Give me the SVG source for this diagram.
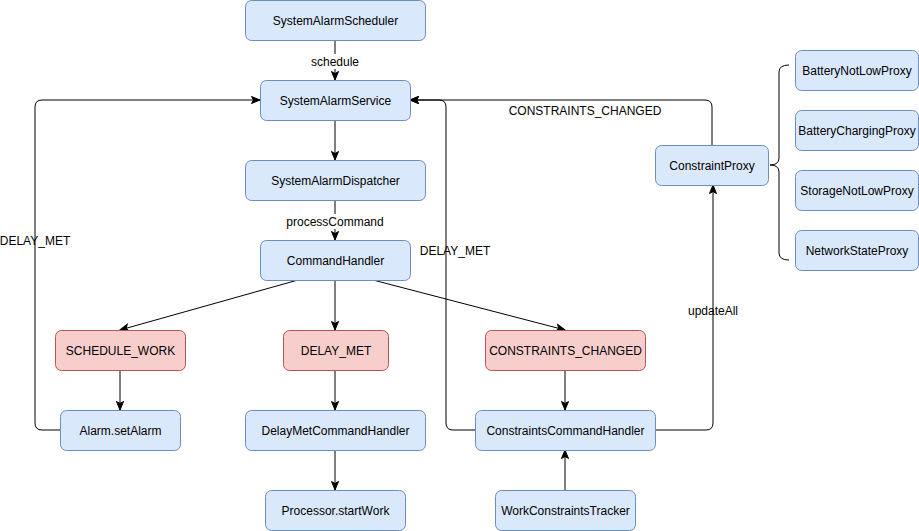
<svg xmlns="http://www.w3.org/2000/svg" width="919" height="531" viewBox="0 0 919 531">
<style>
.b rect{fill:#dae8fc;stroke:#6c8ebf;stroke-width:1}
.r rect{fill:#f8cecc;stroke:#b85450;stroke-width:1}
text{font-family:"Liberation Sans",Arial,sans-serif;font-size:12px;fill:#000;text-anchor:middle}
.e path{fill:none;stroke:#000;stroke-width:1}
.a{marker-end:url(#arr)}
.lb{fill:#fff}
</style>
<defs>
<marker id="arr" markerUnits="userSpaceOnUse" markerWidth="10" markerHeight="10" viewBox="0 0 10 10" refX="9.5" refY="5" orient="auto">
<path d="M1,1.5 L9.5,5 L1,8.5 L3,5 Z" fill="#000" stroke="#000" stroke-width="1"/>
</marker>
</defs>
<rect width="919" height="531" fill="#fff"/>
<g id="connectors" class="e">
<path class="a" d="M335,40.5 L335,80"/>
<path class="a" d="M335,120 L335,160"/>
<path class="a" d="M335,200 L335,240"/>
<path class="a" d="M298,280 L120,330"/>
<path class="a" d="M335,280 L335,330"/>
<path class="a" d="M373,280 L565,330"/>
<path class="a" d="M120,370 L120,410"/>
<path class="a" d="M335,370 L335,410"/>
<path class="a" d="M335,450 L335,490"/>
<path class="a" d="M565,370 L565,410"/>
<path class="a" d="M565,490 L565,450"/>
<path class="a" d="M60,430 L42,430 Q35,430 35,423 L35,107 Q35,100 42,100 L260,100"/>
<path class="a" d="M475,430 L453,430 Q446,430 446,423 L446,107 Q446,100 439,100 L410,100"/>
<path class="a" d="M655,430 L706,430 Q713,430 713,423 L713,185"/>
<path class="a" d="M712,145 L712,107 Q712,100 705,100 L410,100"/>
<path d="M789,65 Q779,65 779,72 L779,158 Q779,165 770,165 Q779,165 779,172 L779,253 Q779,260 789,260"/>
<rect class="lb" x="310" y="54" width="50" height="15"/>
<text x="335" y="66">schedule</text>
<rect class="lb" x="287" y="214" width="96" height="15"/>
<text x="335" y="226">processCommand</text>
<text x="35" y="245">DELAY_MET</text>
<text x="455" y="255">DELAY_MET</text>
<text x="585" y="115">CONSTRAINTS_CHANGED</text>
<text x="713" y="315">updateAll</text>
</g>
<g id="SystemAlarmScheduler" class="b"><rect x="245.5" y="0.5" width="180" height="40" rx="6"/><text x="335.5" y="25">SystemAlarmScheduler</text></g>
<g id="SystemAlarmService" class="b"><rect x="260.5" y="80.5" width="150" height="40" rx="6"/><text x="335.5" y="105">SystemAlarmService</text></g>
<g id="SystemAlarmDispatcher" class="b"><rect x="245.5" y="160.5" width="180" height="40" rx="6"/><text x="335.5" y="185">SystemAlarmDispatcher</text></g>
<g id="CommandHandler" class="b"><rect x="260.5" y="240.5" width="150" height="40" rx="6"/><text x="335.5" y="265">CommandHandler</text></g>
<g id="SCHEDULE_WORK" class="r"><rect x="55.5" y="330.5" width="130" height="40" rx="6"/><text x="120.5" y="355">SCHEDULE_WORK</text></g>
<g id="DELAY_MET" class="r"><rect x="283.5" y="330.5" width="105" height="40" rx="6"/><text x="336" y="355">DELAY_MET</text></g>
<g id="CONSTRAINTS_CHANGED" class="r"><rect x="485.5" y="330.5" width="160" height="40" rx="6"/><text x="565.5" y="355">CONSTRAINTS_CHANGED</text></g>
<g id="AlarmSetAlarm" class="b"><rect x="60.5" y="410.5" width="120" height="40" rx="6"/><text x="120.5" y="435">Alarm.setAlarm</text></g>
<g id="DelayMetCommandHandler" class="b"><rect x="245.5" y="410.5" width="180" height="40" rx="6"/><text x="335.5" y="435">DelayMetCommandHandler</text></g>
<g id="ConstraintsCommandHandler" class="b"><rect x="475.5" y="410.5" width="180" height="40" rx="6"/><text x="565.5" y="435">ConstraintsCommandHandler</text></g>
<g id="ProcessorStartWork" class="b"><rect x="265.5" y="490.5" width="140" height="40" rx="6"/><text x="335.5" y="515">Processor.startWork</text></g>
<g id="WorkConstraintsTracker" class="b"><rect x="495.5" y="490.5" width="140" height="40" rx="6"/><text x="565.5" y="515">WorkConstraintsTracker</text></g>
<g id="ConstraintProxy" class="b"><rect x="655.5" y="145.5" width="113" height="40" rx="6"/><text x="712" y="170">ConstraintProxy</text></g>
<g id="BatteryNotLowProxy" class="b"><rect x="795.5" y="50.5" width="123" height="40" rx="6"/><text x="857" y="75">BatteryNotLowProxy</text></g>
<g id="BatteryChargingProxy" class="b"><rect x="795.5" y="110.5" width="123" height="40" rx="6"/><text x="857" y="135">BatteryChargingProxy</text></g>
<g id="StorageNotLowProxy" class="b"><rect x="795.5" y="170.5" width="123" height="40" rx="6"/><text x="857" y="195">StorageNotLowProxy</text></g>
<g id="NetworkStateProxy" class="b"><rect x="795.5" y="230.5" width="123" height="40" rx="6"/><text x="857" y="255">NetworkStateProxy</text></g>
</svg>
